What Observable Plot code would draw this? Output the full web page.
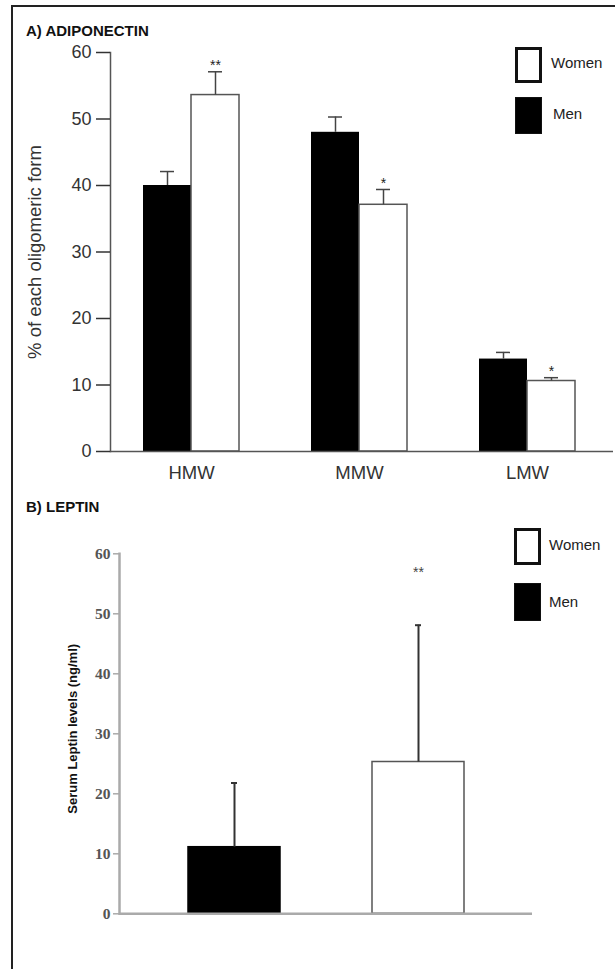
<!DOCTYPE html>
<html>
<head>
<meta charset="utf-8">
<script src="https://cdn.jsdelivr.net/npm/d3@7"></script>
<script src="https://cdn.jsdelivr.net/npm/@observablehq/plot@0.6"></script>
<style>
  html, body { margin: 0; padding: 0; background: #fff; }
  #page { position: relative; width: 615px; height: 969px; overflow: hidden; background: #fff;
          font-family: "Liberation Sans", Arial, Helvetica, sans-serif; }
  #border { position: absolute; left: 11px; top: 5px; width: 610px; height: 980px;
            border-top: 2px solid #222; border-left: 2px solid #222; }
  .chart { position: absolute; left: 0; }
  .title { position: absolute; font-weight: bold; font-size: 15px; color: #111; line-height: 1; }
  .sw { position: absolute; box-sizing: border-box; width: 27px; }
  .sw.white { background: #fff; border: 3px solid #111; }
  .sw.black { background: #000; border: 1px solid #111; }
  .lab { position: absolute; font-size: 15px; color: #222; line-height: 1; }
</style>
</head>
<body>
<div id="page">
  <div id="border"></div>
  <div id="chartA" class="chart" style="top:0px"></div>
  <div id="chartB" class="chart" style="top:490px"></div>

  <div class="title" style="left:26px; top:23px">A) ADIPONECTIN</div>
  <div class="sw white" style="left:515px; top:47px; height:36px"></div>
  <div class="lab" style="left:551px; top:55px">Women</div>
  <div class="sw black" style="left:515px; top:97px; height:37px"></div>
  <div class="lab" style="left:553px; top:106px">Men</div>

  <div class="title" style="left:26px; top:499px">B) LEPTIN</div>
  <div class="sw white" style="left:514px; top:528px; height:37px"></div>
  <div class="lab" style="left:549px; top:537px">Women</div>
  <div class="sw black" style="left:514px; top:583px; height:38px"></div>
  <div class="lab" style="left:549px; top:594px">Men</div>
</div>
<script>
// ---- Panel A: adiponectin oligomeric forms ----
const groupsA = ["HMW", "MMW", "LMW"];
const menA = [40.0, 48.0, 13.9];
const menErrA = [2.1, 2.3, 1.0];
const womenA = [53.6, 37.1, 10.6];
const womenErrA = [3.5, 2.3, 0.5];
const sigA = ["**", "*", "*"];
const ticksA = [0, 10, 20, 30, 40, 50, 60];
const yLabelA = "% of each oligomeric form";

// ---- Panel B: serum leptin ----
const sexB = ["Men", "Women"];
const leptinB = [11.1, 25.3];
const leptinErrB = [10.7, 22.8];
const sigB = ["", "**"];
const ticksB = [0, 10, 20, 30, 40, 50, 60];
const yLabelB = "Serum Leptin levels (ng/ml)";

const tableA = groupsA.map((g, i) => ({
  group: g, men: menA[i], menErr: menErrA[i], women: womenA[i], womenErr: womenErrA[i], sig: sigA[i]
}));
const tableB = sexB.map((s, i) => ({
  sex: s, value: leptinB[i], err: leptinErrB[i], sig: sigB[i]
}));

const plotA = Plot.plot({
  width: 615, height: 490,
  marginLeft: 110, marginRight: 2, marginTop: 52, marginBottom: 39,
  style: { fontFamily: "'Liberation Sans', Arial, sans-serif", fontSize: "18px", background: "transparent", overflow: "visible" },
  x: { domain: groupsA, paddingInner: 0.4294, paddingOuter: 0.2095, align: 0.468 },
  y: { domain: [0, 60] },
  marks: [
    Plot.frame({ anchor: "left", stroke: "#555", strokeWidth: 1.5 }),
    Plot.axisY({ ticks: ticksA, tickSize: 14, tickPadding: 5, fontSize: 18, color: "#333", strokeWidth: 1.5, label: null }),
    Plot.axisX({ tickSize: 0, tickPadding: 14, fontSize: 18.5, color: "#333", label: null }),
    Plot.text([yLabelA], { frameAnchor: "left", textAnchor: "middle", rotate: -90, dx: -75, fontSize: 18.5, fill: "#333" }),
    Plot.barY(tableA, { x: "group", y: "men", fill: "#000", insetRight: 48 }),
    Plot.barY(tableA, { x: "group", y: "women", fill: "#fff", stroke: "#555", strokeWidth: 1.5, insetLeft: 48 }),
    Plot.ruleX(tableA, { x: "group", y1: "men", y2: d => d.men + d.menErr, dx: -24, stroke: "#444", strokeWidth: 1.5 }),
    Plot.tickY(tableA, { x: "group", y: d => d.men + d.menErr, insetLeft: 17, insetRight: 65, stroke: "#444", strokeWidth: 1.5 }),
    Plot.ruleX(tableA, { x: "group", y1: "women", y2: d => d.women + d.womenErr, dx: 24, stroke: "#444", strokeWidth: 1.5 }),
    Plot.tickY(tableA, { x: "group", y: d => d.women + d.womenErr, insetLeft: 65, insetRight: 17, stroke: "#444", strokeWidth: 1.5 }),
    Plot.text(tableA, { x: "group", y: d => d.women + d.womenErr, text: "sig", dx: 24, dy: -6, fontSize: 14, fill: "#222" }),
    Plot.ruleY([0], { stroke: "#555", strokeWidth: 1.5 })
  ]
});
document.getElementById("chartA").appendChild(plotA);

const plotB = Plot.plot({
  width: 615, height: 479,
  marginLeft: 119, marginRight: 83, marginTop: 63.3, marginBottom: 55.7,
  style: { fontFamily: "'Liberation Sans', Arial, sans-serif", fontSize: "14px", background: "transparent", overflow: "visible" },
  x: { domain: sexB, paddingInner: 0.5, paddingOuter: 0.372, align: 0.5, axis: null },
  y: { domain: [0, 60] },
  marks: [
    Plot.frame({ anchor: "left", stroke: "#aaa", strokeWidth: 2.5 }),
    Plot.axisY({ ticks: ticksB, tickSize: 6, tickPadding: 3, fontSize: 15.5, fontFamily: "'Liberation Serif', 'DejaVu Serif', serif", fontWeight: "bold", color: "#555", stroke: "#aaa", strokeWidth: 1.5, label: null }),
    Plot.text([yLabelB], { frameAnchor: "left", textAnchor: "middle", rotate: -90, dx: -47, dy: -5, fontSize: 13, fontWeight: "bold", fill: "#111" }),
    Plot.barY(tableB, { x: "sex", y: "value", fill: d => d.sex === "Men" ? "#000" : "#fff", stroke: d => d.sex === "Men" ? "#000" : "#555", strokeWidth: 1.5 }),
    Plot.ruleX(tableB, { x: "sex", y1: "value", y2: d => d.value + d.err, stroke: "#333", strokeWidth: 2 }),
    Plot.tickY(tableB, { x: "sex", y: d => d.value + d.err, insetLeft: 43, insetRight: 43, stroke: "#333", strokeWidth: 2 }),
    Plot.text(tableB, { x: "sex", y: d => d.value + d.err, text: "sig", dy: -53, fontSize: 14, fill: "#444" }),
    Plot.ruleY([0], { stroke: "#aaa", strokeWidth: 2.5 })
  ]
});
document.getElementById("chartB").appendChild(plotB);
</script>
</body>
</html>
